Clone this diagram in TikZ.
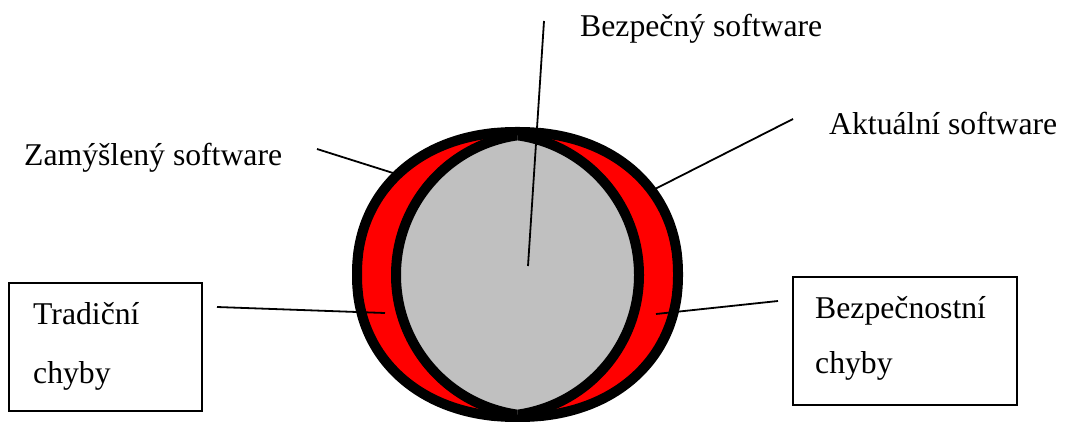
\documentclass[tikz,border=0pt]{standalone}
\usepackage{fontspec}
\setmainfont{Liberation Serif}
\definecolor{silv}{RGB}{192,192,192}
\definecolor{pured}{RGB}{255,0,0}
\begin{document}
\begin{tikzpicture}[x=1pt,y=-1pt,
  lbl/.style={inner sep=0pt,anchor=base west,font=\fontsize{31.7}{36}\selectfont},
  box/.style={draw=black,line width=1.5pt,inner sep=0pt},
  conn/.style={draw=black,line width=1.8pt},
  rim/.style={draw=black,line width=10pt,line join=round}]
\useasboundingbox (0,0) rectangle (1067,422);
\coordinate (zamc) at (498,275);
\coordinate (aktc) at (537,275);
% outer outline of intended + actual software, red
\path[fill=pured,rim] plot[domain=0.5:359.5,samples=360]
  ({517.5+160.5*sign(cos(\x))*abs(cos(\x))^(0.93)},{274.5+142.5*sign(sin(\x))*abs(sin(\x))^(0.93)}) -- cycle;
% overlap = secure software, grey
\begin{scope}
  \clip (zamc) circle[radius=141pt];
  \fill[silv] (aktc) circle[radius=141pt];
\end{scope}
% inner arcs
\begin{scope}
  \clip (0,0) rectangle (517.5,422);
  \path[rim] (aktc) circle[radius=141pt];
\end{scope}
\begin{scope}
  \clip (517.5,0) rectangle (1067,422);
  \path[rim] (zamc) circle[radius=141pt];
\end{scope}
% boxes
\node[box,minimum width=193pt,minimum height=128pt] (tradbox) at (105.5,347) {};
\node[box,minimum width=224pt,minimum height=128pt] (bezbox) at (905,341) {};
% labels
\node[lbl] (bezsw) at (580,37) {Bezpečný software};
\node[lbl] (zamsw) at (24,166) {Zamýšlený software};
\node[lbl] (aktsw) at (829,135) {Aktuální software};
\node[lbl] (trad1) at (33,324) {Tradiční};
\node[lbl] (trad2) at (33,383) {chyby};
\node[lbl] (bez1) at (815,318) {Bezpečnostní};
\node[lbl] (bez2) at (815,373) {chyby};
% connector end points
\coordinate (bezA) at (544,21);
\coordinate (bezB) at (528,266);
\coordinate (zamA) at (317,149);
\coordinate (zamB) at (393,173);
\coordinate (aktA) at (793,119);
\coordinate (aktB) at (655,189);
\coordinate (tradA) at (217,307);
\coordinate (tradB) at (385,313);
\coordinate (bezeA) at (778,301);
\coordinate (bezeB) at (656,314);
% connectors
\draw[conn] (bezA) -- (bezB);
\draw[conn] (zamA) -- (zamB);
\draw[conn] (aktA) -- (aktB);
\draw[conn] (tradA) -- (tradB);
\draw[conn] (bezeA) -- (bezeB);
\end{tikzpicture}
\end{document}
